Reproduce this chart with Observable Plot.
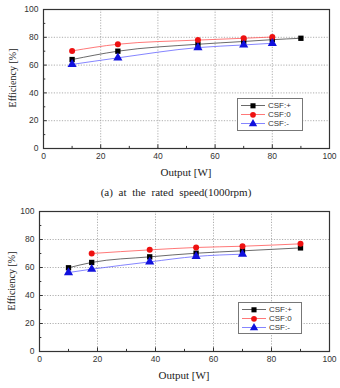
<!DOCTYPE html>
<html>
<head>
<meta charset="utf-8">
<script src="https://cdn.jsdelivr.net/npm/d3@7"></script>
<script src="https://cdn.jsdelivr.net/npm/@observablehq/plot@0.6"></script>
<style>
  html, body { margin: 0; padding: 0; background: #fff; }
  #root { position: relative; width: 340px; height: 388px; overflow: hidden; }
  .chart { position: absolute; left: 0; }
  .lbl { position: absolute; font-family: "Liberation Serif", "Times New Roman", serif; color: #222; white-space: nowrap; }
  .ylbl { transform: translate(-50%, -50%) rotate(-90deg); font-size: 10px; }
  .xlbl { transform: translate(-50%, -50%); font-size: 11px; }
  .cap { transform: translate(-50%, -50%); font-size: 11px; word-spacing: 3px; }
  .legend { position: absolute; border: 1px solid #777; background: #fff; font-family: "Liberation Sans", Arial, sans-serif; font-size: 8px; color: #333; box-sizing: border-box; padding-top: 2px; }
  .legend .row { display: flex; align-items: center; height: 9px; }
  .legend svg { display: block; margin-left: 2px; margin-right: 2px; }
</style>
</head>
<body>
<div id="root"></div>
<script>
// ---- Data ----
const seriesNames = ["CSF:+", "CSF:0", "CSF:-"];
const seriesColors = ["#000000", "#ee1111", "#1111dd"];
const lineColors = ["#444444", "#ff5555", "#6666ff"];
const seriesSymbols = ["square", "circle", "triangle"];

const xTicks = [0, 20, 40, 60, 80, 100];
const yTicks = [0, 20, 40, 60, 80, 100];
const minorTicks = [10, 30, 50, 70, 90];

// (a) 1000 rpm
const aPlusX  = [10, 26, 54, 70, 80, 90];
const aPlusY  = [64, 70, 75, 77, 78.3, 79.3];
const aZeroX  = [10, 26, 54, 70, 80];
const aZeroY  = [70.2, 75, 78, 79.3, 80.2];
const aMinusX = [10, 26, 54, 70, 80];
const aMinusY = [60.5, 65.2, 72.6, 74.5, 75.7];

// (b) 1500 rpm
const bPlusX  = [10, 18, 38, 54, 70, 90];
const bPlusY  = [59.8, 63.6, 67.6, 70.2, 71.9, 74];
const bZeroX  = [18, 38, 54, 70, 90];
const bZeroY  = [70, 72.6, 74.3, 75.2, 76.9];
const bMinusX = [10, 18, 38, 54, 70];
const bMinusY = [56.4, 58.8, 64, 67.9, 69.5];

const captionA = "(a) at the rated speed(1000rpm)";
const captionB = "(b) at the rated speed(1500rpm)";
const xLabel = "Output [W]";
const yLabel = "Efficiency [%]";

function toRows(xs, ys) { return xs.map((x, i) => ({x, y: ys[i]})); }

function makeChart(series, m, height) {
  const marks = [
    Plot.gridX(xTicks.slice(1, -1), {stroke: "#999", strokeOpacity: 1, strokeDasharray: "1.2,1.5", strokeWidth: 0.8}),
    Plot.gridY(yTicks.slice(1, -1), {stroke: "#999", strokeOpacity: 1, strokeDasharray: "1.2,1.5", strokeWidth: 0.8}),
    // inward ticks
    Plot.ruleX(xTicks, {x: d => d, y1: 0, y2: 2.6, stroke: "#333", strokeWidth: 1}),
    Plot.ruleX(minorTicks, {x: d => d, y1: 0, y2: 1.5, stroke: "#333", strokeWidth: 1}),
    Plot.ruleY(yTicks, {y: d => d, x1: 0, x2: 1.3, stroke: "#333", strokeWidth: 1}),
    Plot.ruleY(minorTicks, {y: d => d, x1: 0, x2: 0.8, stroke: "#333", strokeWidth: 1}),
    Plot.axisX(xTicks, {tickSize: 0, tickPadding: 4, fontSize: 8.5, fontFamily: "Liberation Sans, Arial, sans-serif", fill: "#333", label: null}),
    Plot.axisY(yTicks, {tickSize: 0, tickPadding: 5, fontSize: 8.5, fontFamily: "Liberation Sans, Arial, sans-serif", fill: "#333", label: null})
  ];
  series.forEach((s, i) => {
    marks.push(Plot.line(s, {x: "x", y: "y", stroke: lineColors[i], strokeWidth: 0.8, curve: "monotone-x"}));
  });
  series.forEach((s, i) => {
    marks.push(Plot.dot(s, {x: "x", y: "y", symbol: () => seriesSymbols[i], fill: seriesColors[i], stroke: "none", r: i === 2 ? 3.4 : 3}));
  });
  marks.push(Plot.frame({stroke: "#333", strokeWidth: 1.2}));
  return Plot.plot({
    width: 340, height,
    marginTop: m[0], marginRight: m[1], marginBottom: m[2], marginLeft: m[3],
    x: {domain: [0, 100]},
    y: {domain: [0, 100]},
    symbol: {type: "identity"},
    style: {background: "transparent", overflow: "visible"},
    marks
  });
}

function legend(left, top, w, h) {
  const div = document.createElement("div");
  div.className = "legend";
  div.style.left = left + "px"; div.style.top = top + "px";
  div.style.width = w + "px"; div.style.height = h + "px";
  seriesNames.forEach((name, i) => {
    const row = document.createElement("div");
    row.className = "row";
    const svg = d3.create("svg").attr("width", 26).attr("height", 9);
    svg.append("line").attr("x1", 1).attr("x2", 25).attr("y1", 4.5).attr("y2", 4.5).attr("stroke", lineColors[i]).attr("stroke-width", 0.8);
    const sym = d3.symbol().type(i === 0 ? d3.symbolSquare : i === 1 ? d3.symbolCircle : d3.symbolTriangle).size(i === 2 ? 30 : 26);
    svg.append("path").attr("d", sym()).attr("transform", "translate(13,4.8)").attr("fill", seriesColors[i]);
    row.appendChild(svg.node());
    const t = document.createElement("span");
    t.textContent = name;
    row.appendChild(t);
    div.appendChild(row);
  });
  return div;
}

function label(cls, text, x, y) {
  const d = document.createElement("div");
  d.className = "lbl " + cls;
  d.textContent = text;
  d.style.left = x + "px"; d.style.top = y + "px";
  return d;
}

const root = document.getElementById("root");

const chartA = makeChart([toRows(aPlusX, aPlusY), toRows(aZeroX, aZeroY), toRows(aMinusX, aMinusY)], [9, 11, 32, 43], 180);
chartA.classList.add("chart"); chartA.style.top = "0px";
root.appendChild(chartA);

const chartB = makeChart([toRows(bPlusX, bPlusY), toRows(bZeroX, bZeroY), toRows(bMinusX, bMinusY)], [11, 11, 37, 39], 188);
chartB.classList.add("chart"); chartB.style.top = "200px";
root.appendChild(chartB);

root.appendChild(label("ylbl", yLabel, 12, 78));
root.appendChild(label("xlbl", xLabel, 186, 172));
root.appendChild(label("cap", captionA, 176, 192));
root.appendChild(legend(237, 98, 66, 33));

root.appendChild(label("ylbl", yLabel, 11, 281));
root.appendChild(label("xlbl", xLabel, 184, 375));
root.appendChild(label("cap", captionB, 176, 392));
root.appendChild(legend(238, 302, 64, 32));
</script>
</body>
</html>
